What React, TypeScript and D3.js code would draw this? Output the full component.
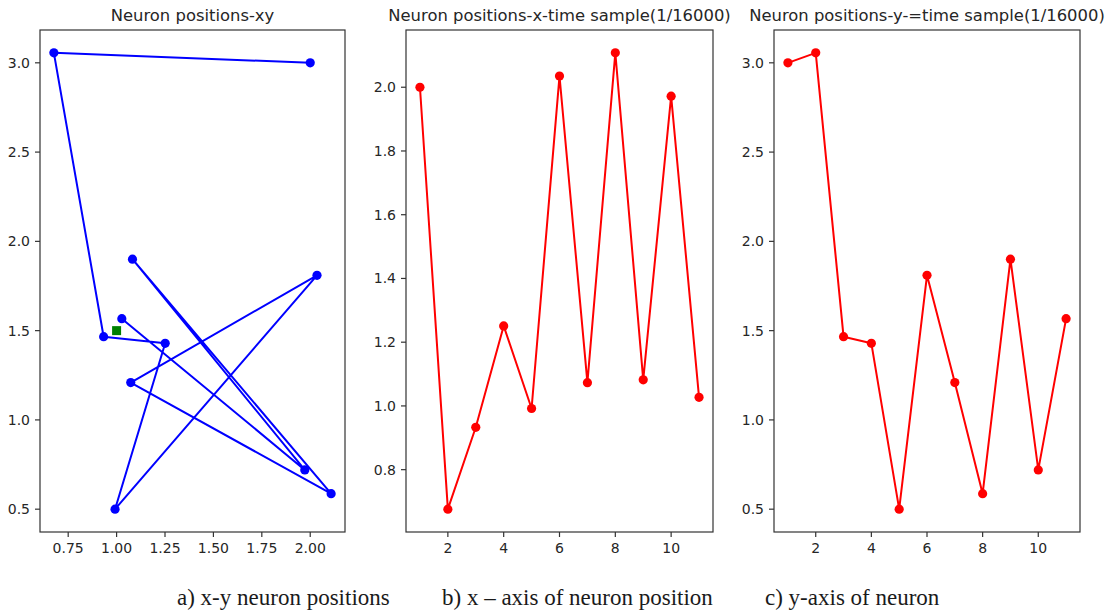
import React from "react";
import * as d3 from "d3";

const timeSteps = [1, 2, 3, 4, 5, 6, 7, 8, 9, 10, 11];
const xPos = [2.0, 0.676, 0.933, 1.251, 0.992, 2.035, 1.073, 2.108, 1.082, 1.972, 1.027];
const yPos = [3.0, 3.056, 1.466, 1.429, 0.5, 1.81, 1.209, 0.587, 1.9, 0.72, 1.567];
const startPoint = [1.0, 1.5];

const titles = [
  "Neuron positions-xy",
  "Neuron positions-x-time sample(1/16000)",
  "Neuron positions-y-=time sample(1/16000)",
];
const captions = [
  "a) x-y neuron positions",
  "b) x \u2013 axis of neuron position",
  "c) y-axis of neuron",
];
const xyXTicks = [0.75, 1.0, 1.25, 1.5, 1.75, 2.0];
const posYTicks = [0.5, 1.0, 1.5, 2.0, 2.5, 3.0];
const timeTicks = [2, 4, 6, 8, 10];
const xValTicks = [0.8, 1.0, 1.2, 1.4, 1.6, 1.8, 2.0];

const W = 1110;
const H = 614;
const TOP = 30;
const BOTTOM = 532;
const TICK_FONT = "'DejaVu Sans', sans-serif";
const TEXT_COL = "#262626";

function padDomain(vals: number[]): [number, number] {
  const [lo, hi] = d3.extent(vals) as [number, number];
  const m = (hi - lo) * 0.05;
  return [lo - m, hi + m];
}

type PanelProps = {
  left: number;
  right: number;
  xs: number[];
  ys: number[];
  xTicks: number[];
  yTicks: number[];
  xFmt: (v: number) => string;
  yFmt: (v: number) => string;
  color: string;
  title: string;
  caption: string;
  captionX: number;
  extra?: (x: d3.ScaleLinear<number, number>, y: d3.ScaleLinear<number, number>) => React.ReactNode;
};

function Panel(p: PanelProps) {
  const x = d3.scaleLinear().domain(padDomain(p.xs)).range([p.left, p.right]);
  const y = d3.scaleLinear().domain(padDomain(p.ys)).range([BOTTOM, TOP]);
  const pts = p.xs.map((v, i) => [v, p.ys[i]] as [number, number]);
  const line = d3
    .line<[number, number]>()
    .x((d) => x(d[0]))
    .y((d) => y(d[1]));
  return (
    <g>
      <text
        x={(p.left + p.right) / 2}
        y={20.5}
        textAnchor="middle"
        fontFamily={TICK_FONT}
        fontSize={16.4}
        fill={TEXT_COL}
      >
        {p.title}
      </text>
      <path d={line(pts) || ""} fill="none" stroke={p.color} strokeWidth={2} strokeLinejoin="round" />
      {pts.map((d, i) => (
        <circle key={i} cx={x(d[0])} cy={y(d[1])} r={4.6} fill={p.color} />
      ))}
      {p.extra ? p.extra(x, y) : null}
      <rect
        x={p.left}
        y={TOP}
        width={p.right - p.left}
        height={BOTTOM - TOP}
        fill="none"
        stroke="#333"
        strokeWidth={1.2}
      />
      {p.xTicks.map((t) => (
        <g key={"x" + t}>
          <line x1={x(t)} x2={x(t)} y1={BOTTOM} y2={BOTTOM + 5} stroke="#333" strokeWidth={1.2} />
          <text
            x={x(t)}
            y={553}
            textAnchor="middle"
            fontFamily={TICK_FONT}
            fontSize={14}
            fill={TEXT_COL}
          >
            {p.xFmt(t)}
          </text>
        </g>
      ))}
      {p.yTicks.map((t) => (
        <g key={"y" + t}>
          <line x1={p.left - 5} x2={p.left} y1={y(t)} y2={y(t)} stroke="#333" strokeWidth={1.2} />
          <text
            x={p.left - 10}
            y={y(t)}
            dy="0.36em"
            textAnchor="end"
            fontFamily={TICK_FONT}
            fontSize={14}
            fill={TEXT_COL}
          >
            {p.yFmt(t)}
          </text>
        </g>
      ))}
      <text
        x={p.captionX}
        y={605}
        fontFamily="'Liberation Serif', 'Times New Roman', serif"
        fontSize={23}
        fill="#1a1a1a"
      >
        {p.caption}
      </text>
    </g>
  );
}

export default function App() {
  const f2 = d3.format(".2f");
  const f1 = d3.format(".1f");
  const fi = d3.format("d");
  return (
    <svg
      width={W}
      height={H}
      style={{ position: "absolute", left: 0, top: 0, background: "#fff" }}
    >
      <rect width={W} height={H} fill="#fff" />
      <Panel
        left={40}
        right={345}
        xs={xPos}
        ys={yPos}
        xTicks={xyXTicks}
        yTicks={posYTicks}
        xFmt={f2}
        yFmt={f1}
        color="#0000ff"
        title={titles[0]}
        caption={captions[0]}
        captionX={177}
        extra={(x, y) => (
          <rect
            x={x(startPoint[0]) - 4.5}
            y={y(startPoint[1]) - 4.5}
            width={9}
            height={9}
            fill="#008000"
          />
        )}
      />
      <Panel
        left={406}
        right={713}
        xs={timeSteps}
        ys={xPos}
        xTicks={timeTicks}
        yTicks={xValTicks}
        xFmt={fi}
        yFmt={f1}
        color="#ff0000"
        title={titles[1]}
        caption={captions[1]}
        captionX={442}
      />
      <Panel
        left={774}
        right={1080}
        xs={timeSteps}
        ys={yPos}
        xTicks={timeTicks}
        yTicks={posYTicks}
        xFmt={fi}
        yFmt={f1}
        color="#ff0000"
        title={titles[2]}
        caption={captions[2]}
        captionX={765}
      />
    </svg>
  );
}
